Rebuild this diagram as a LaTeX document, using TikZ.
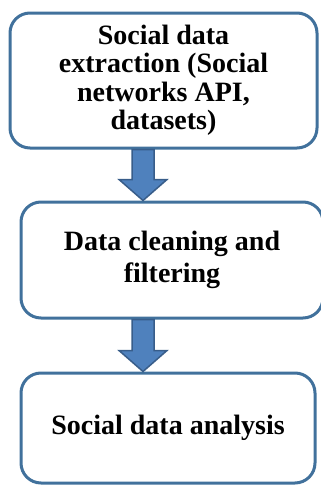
\documentclass[tikz,border=0pt]{standalone}
\usepackage{fontspec}
\setmainfont{Liberation Serif}
\usetikzlibrary{calc}
\definecolor{boxline}{RGB}{65,113,156}
\definecolor{arrowfill}{RGB}{79,129,189}
\definecolor{arrowline}{RGB}{56,93,138}

\begin{document}
\begin{tikzpicture}
		[x=1pt, y=1pt,
		every node/.style={font=\bfseries\fontsize{28}{28.5}\selectfont},
		stagebox/.style={draw=boxline, line width=3pt, rounded corners=20pt,
			inner sep=0pt, align=center},
		blockarrow/.style={fill=arrowfill, draw=arrowline, line width=1.5pt,
			line join=miter},
		]
		\useasboundingbox (0,0) rectangle (321,-485);
		\coordinate (ax) at (143,0);
		\node[stagebox, minimum width=307pt, minimum height=135pt] (top) at (163.5,-80.5)
			{Social data\\extraction (Social\\networks API,\\datasets)};
		\node[stagebox, minimum width=302pt, minimum height=116pt,
			font=\bfseries\fontsize{28}{32}\selectfont] (mid) at (172,-260)
			{Data cleaning and\\filtering};
		\node[stagebox, minimum width=294pt, minimum height=110pt] (bot) at (168,-428)
			{\raisebox{-3pt}{Social data analysis}};
		% block arrows between the stages
		\foreach \s/\t in {top/mid,mid/bot}
			\draw[blockarrow] ($(ax |- \s.south)+(-11,0)$) -- ($(ax |- \t.north)+(-11,21)$)
				-- ++(-13,0) -- (ax |- \t.north) -- ($(ax |- \t.north)+(24,21)$)
				-- ++(-13,0) -- ($(ax |- \s.south)+(11,0)$) -- cycle;
	\end{tikzpicture}
\end{document}
